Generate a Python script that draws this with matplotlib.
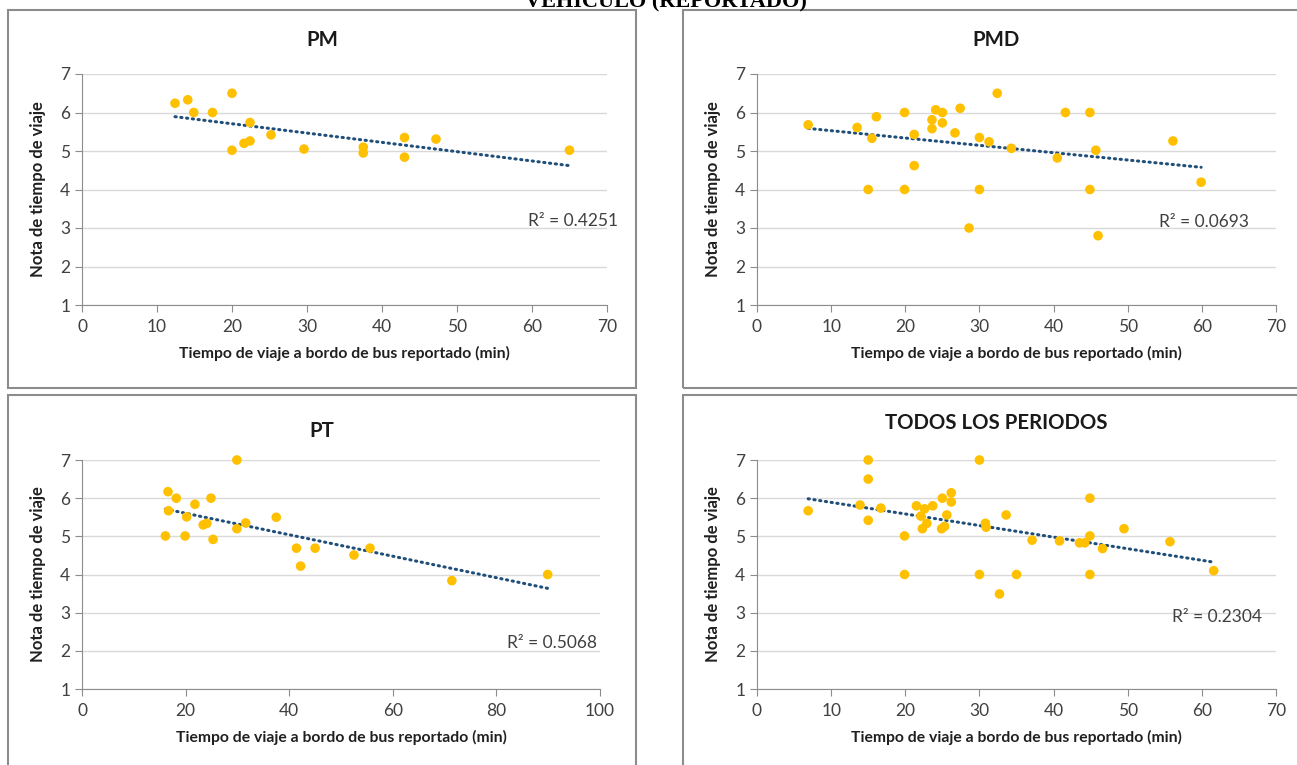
import matplotlib.pyplot as plt
from matplotlib.patches import Rectangle
import numpy as np

# ---- data ----
pm_x = [12.4, 14.1, 14.9, 17.4, 20.0, 20.0, 21.6, 22.4, 22.4, 25.2, 29.6, 37.5, 37.5, 43.0, 43.0, 47.2, 65.0]
pm_y = [6.24, 6.33, 6.0, 6.0, 6.5, 5.02, 5.2, 5.74, 5.26, 5.42, 5.05, 5.1, 4.95, 5.35, 4.84, 5.31, 5.02]

pmd_x = [6.9, 13.5, 15.5, 16.1, 15.0, 19.9, 19.9, 21.2, 21.2, 23.6, 23.6, 24.1, 25.0, 25.0, 26.7,
         27.4, 28.6, 30.0, 30.0, 31.3, 32.4, 34.3, 40.5, 41.6, 44.9, 44.9, 45.7, 46.0, 56.1, 59.9]
pmd_y = [5.68, 5.61, 5.33, 5.89, 4.0, 6.0, 4.0, 5.43, 4.62, 5.81, 5.58, 6.07, 6.0, 5.73, 5.47,
         6.11, 3.0, 5.35, 4.0, 5.24, 6.5, 5.07, 4.82, 6.0, 6.0, 4.0, 5.02, 2.8, 5.26, 4.19]

pt_x = [16.6, 16.7, 16.1, 18.2, 20.2, 19.9, 21.8, 23.4, 24.1, 24.9, 25.3, 29.9, 29.9, 31.6,
        37.5, 41.4, 42.2, 45.0, 52.5, 55.6, 71.4, 89.9]
pt_y = [6.17, 5.67, 5.01, 6.0, 5.51, 5.01, 5.84, 5.3, 5.34, 6.0, 4.92, 7.0, 5.2, 5.35,
        5.5, 4.69, 4.22, 4.69, 4.51, 4.69, 3.84, 4.0]

all_x = [6.9, 13.9, 15.0, 15.0, 15.0, 16.7, 19.9, 19.9, 21.5, 22.1, 22.3, 22.6, 22.9, 23.7, 24.9,
         25.0, 25.3, 25.6, 26.2, 26.2, 30.0, 30.0, 30.8, 30.9, 32.7, 33.6, 35.0, 37.1, 40.8, 43.5,
         44.2, 44.9, 44.9, 44.9, 46.6, 49.5, 55.7, 61.6]
all_y = [5.67, 5.82, 7.0, 6.5, 5.42, 5.74, 5.01, 4.0, 5.8, 5.53, 5.2, 5.72, 5.34, 5.8, 5.2,
         6.0, 5.26, 5.56, 6.14, 5.9, 7.0, 4.0, 5.34, 5.24, 3.49, 5.56, 4.0, 4.9, 4.88, 4.83,
         4.83, 6.0, 5.01, 4.0, 4.68, 5.2, 4.86, 4.1]

titles = ['PM', 'PMD', 'PT', 'TODOS LOS PERIODOS']
r2_labels = ['R² = 0.4251', 'R² = 0.0693', 'R² = 0.5068', 'R² = 0.2304']
xmax = [70, 70, 100, 70]
xstep = [10, 10, 20, 10]

W, H = 1297, 765
plt.rcParams['font.family'] = ['Lato', 'DejaVu Sans']

fig = plt.figure(figsize=(W / 100, H / 100), dpi=100)


def fx(px):
    return px / W


def fy(py):
    return 1 - py / H


# panel frames (pixels: left, top, right, bottom)
frames = [(8, 10, 636, 388), (683, 10, 1300, 388), (8, 395, 636, 770), (683, 395, 1300, 770)]
for l, t, r, b in frames:
    fig.patches.append(Rectangle((fx(l), fy(b)), fx(r - l), fy(t) - fy(b),
                                 transform=fig.transFigure, fill=False,
                                 edgecolor='#8c8c8c', linewidth=1.5))

# axes boxes (pixels: left, top, right, bottom)
boxes = [(82, 74, 607, 305), (757, 74, 1276, 305), (82, 460, 600, 689), (757, 460, 1276, 689)]
title_pos = [(322, 40), (996, 40), (322, 431), (996, 423)]
r2_pos = [(71.5, 3.18), (66.4, 3.15), (99.4, 2.2), (68.1, 2.88)]
xs = [pm_x, pmd_x, pt_x, all_x]
ys = [pm_y, pmd_y, pt_y, all_y]

for i in range(4):
    l, t, r, b = boxes[i]
    ax = fig.add_axes([fx(l), fy(b), fx(r - l), fy(t) - fy(b)])
    x = np.array(xs[i])
    y = np.array(ys[i])

    ax.set_xlim(0, xmax[i])
    ax.set_ylim(1, 7)
    ax.set_xticks(np.arange(0, xmax[i] + 1, xstep[i]))
    ax.set_yticks(range(1, 8))
    ax.grid(axis='y', color='#d9d9d9', linewidth=1)
    ax.set_axisbelow(True)
    for s in ['top', 'right']:
        ax.spines[s].set_visible(False)
    for s in ['left', 'bottom']:
        ax.spines[s].set_color('#8c8c8c')
    ax.tick_params(direction='out', length=5, color='#8c8c8c', labelsize=12.5, labelcolor='#404040')
    ax.tick_params(axis='x', pad=5)

    # linear trendline (Excel style)
    k, c = np.polyfit(x, y, 1)
    tx = np.array([x.min(), x.max()])
    ax.plot(tx, k * tx + c, color='#1f4e79', linewidth=2.2, linestyle=(0, (0.4, 1.5)),
            dash_capstyle='round', zorder=3)
    ax.scatter(x, y, s=48, color='#ffc000', edgecolors='none', zorder=4, clip_on=False)

    ax.text(r2_pos[i][0], r2_pos[i][1], r2_labels[i], ha='right', va='center',
            fontsize=12.5, color='#404040')

    ax.set_xlabel('Tiempo de viaje a bordo de bus reportado (min)', fontsize=11.3,
                  fontweight='bold', color='#202020', labelpad=8)
    ax.set_ylabel('Nota de tiempo de viaje', fontsize=12, fontweight='bold',
                  color='#202020', labelpad=10)

    tx_, ty_ = title_pos[i]
    fig.text(fx(tx_), fy(ty_), titles[i], ha='center', va='center', fontsize=14.7,
             fontweight='bold', color='#1a1a1a')

# cut-off document heading at the very top
fig.text(fx(666), fy(7), 'VEHICULO (REPORTADO)', ha='center', va='baseline',
         fontsize=16, fontweight='bold', family=['Liberation Serif', 'DejaVu Serif'])

fig.savefig('out.png', dpi=100)
